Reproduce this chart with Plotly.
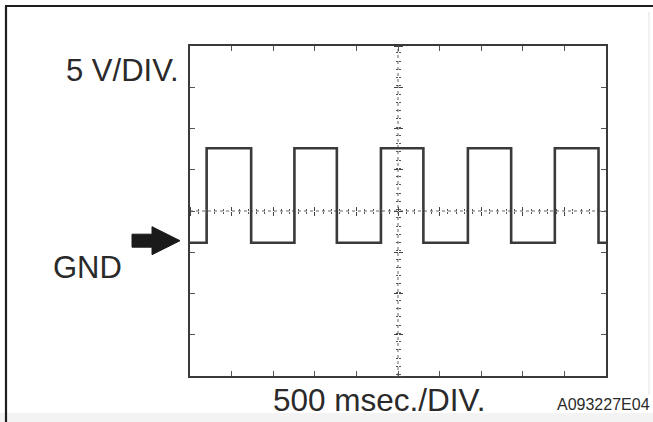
import plotly.graph_objects as go

# ---- data (time in ms, voltage in V relative to GND) ----
time_ms = [0, 200, 735, 1255, 1765, 2295, 2805, 3340, 3860, 4385, 4910, 5000]
volts = [0, 11.45, 0, 11.45, 0, 11.45, 0, 11.45, 0, 11.45, 0, 0]

x_div = 500          # 500 msec./DIV.
y_div = 5            # 5 V/DIV.
n_xdiv = 10
n_ydiv = 8
y_center = 3.84      # screen centre line in volts (GND sits below it)
x_center = x_div * n_xdiv / 2

x_range = [0, x_div * n_xdiv]
y_range = [y_center - y_div * n_ydiv / 2, y_center + y_div * n_ydiv / 2]

label_volt = "5 V/DIV."
label_time = "500 msec./DIV."
label_gnd = "GND"
label_code = "A093227E04"

W, H = 653, 422
L, R, T, B = 190, 47, 46, 46
PW, PH = W - L - R, H - T - B


def px(x):
    return (x - L) / PW


def py(y):
    return (H - B - y) / PH


FONT = "Liberation Sans, Arial, sans-serif"
INK = "#2a2a2a"

fig = go.Figure()
fig.add_trace(go.Scatter(
    x=time_ms, y=volts, mode="lines", line_shape="hv",
    line=dict(color="#3a3a3a", width=2.6),
    showlegend=False, hoverinfo="skip"))

# dummy traces so the centre (crosshair) axes get drawn
for xa, ya in [("x2", "y"), ("x3", "y"), ("x", "y2"), ("x", "y3")]:
    fig.add_trace(go.Scatter(x=[None], y=[None], xaxis=xa, yaxis=ya,
                             showlegend=False, hoverinfo="skip"))

frame_axis = dict(showgrid=False, zeroline=False, showline=True, mirror="ticks",
                  linecolor="#3a3a3a", linewidth=1.5, ticks="inside", ticklen=5,
                  tickwidth=1, tickcolor="#555", showticklabels=False, fixedrange=True)

cross_common = dict(showgrid=False, zeroline=False, showline=False,
                    showticklabels=False, ticklen=4, tickwidth=1, tickcolor="#444",
                    ticks="outside", fixedrange=True)

fig.update_layout(
    width=W, height=H,
    margin=dict(l=L, r=R, t=T, b=B),
    paper_bgcolor="white", plot_bgcolor="white",
    xaxis=dict(range=x_range, tick0=0, dtick=x_div, **frame_axis),
    yaxis=dict(range=y_range, tick0=y_center, dtick=y_div, **frame_axis),
    xaxis2=dict(range=x_range, overlaying="x", anchor="free", position=0.5, side="bottom",
                tick0=0, dtick=x_div,
                minor=dict(dtick=x_div / 5, ticklen=2, tickcolor="#555", ticks="outside"),
                **cross_common),
    xaxis3=dict(range=x_range, overlaying="x", anchor="free", position=0.5, side="top",
                tick0=0, dtick=x_div,
                minor=dict(dtick=x_div / 5, ticklen=2, tickcolor="#555", ticks="outside"),
                **cross_common),
    yaxis2=dict(range=y_range, overlaying="y", anchor="free", position=0.5, side="left",
                tick0=y_center, dtick=y_div,
                minor=dict(dtick=y_div / 5, ticklen=2, tickcolor="#555", ticks="outside"),
                **cross_common),
    yaxis3=dict(range=y_range, overlaying="y", anchor="free", position=0.5, side="right",
                tick0=y_center, dtick=y_div,
                minor=dict(dtick=y_div / 5, ticklen=2, tickcolor="#555", ticks="outside"),
                **cross_common),
)

shapes = [
    # crosshair centre lines
    dict(type="line", xref="paper", yref="y", x0=0, x1=1, y0=y_center, y1=y_center,
         line=dict(color="#666", width=1, dash="dot"), layer="below"),
    dict(type="line", xref="x", yref="paper", x0=x_center, x1=x_center, y0=0, y1=1,
         line=dict(color="#666", width=1, dash="dot"), layer="below"),
    # GND arrow (anchored at the GND level, sized in pixels)
    dict(type="path", xref="paper", yref="y", xsizemode="pixel", ysizemode="pixel",
         xanchor=0, yanchor=0,
         path="M -58 -4.5 L -38 -4.5 L -38 -12 L -10 2 L -38 16 L -38 8.5 L -58 8.5 Z",
         fillcolor="#1a1a1a", line=dict(color="#1a1a1a", width=1)),
    # outer picture frame
    dict(type="rect", xref="paper", yref="paper", x0=px(0), x1=px(W), y0=py(H), y1=py(413),
         fillcolor="#f3f3f3", line=dict(width=0), layer="below"),
    dict(type="line", xref="paper", yref="paper", x0=px(6), x1=px(6), y0=py(H), y1=py(6),
         line=dict(color="#1e1e1e", width=2.2)),
    dict(type="line", xref="paper", yref="paper", x0=px(5), x1=px(W), y0=py(6), y1=py(6),
         line=dict(color="#1e1e1e", width=2.2)),
    dict(type="line", xref="paper", yref="paper", x0=px(649), x1=px(649), y0=py(395), y1=py(12),
         line=dict(color="#e2e2e2", width=1)),
]
fig.update_layout(shapes=shapes)

ann = [
    dict(text=label_volt, x=px(181), y=py(70), xanchor="right", yanchor="middle",
         font=dict(size=31, color=INK, family=FONT)),
    dict(text=label_gnd, x=px(51), y=py(267), xanchor="left", yanchor="middle",
         font=dict(size=31, color=INK, family=FONT)),
    dict(text=label_time, x=px(378.5), y=py(400), xanchor="center", yanchor="middle",
         font=dict(size=31.5, color=INK, family=FONT)),
    dict(text=label_code, x=px(652), y=py(404), xanchor="right", yanchor="middle",
         font=dict(size=16, color=INK, family=FONT)),
]
for a in ann:
    fig.add_annotation(xref="paper", yref="paper", showarrow=False, **a)

fig.write_html(
    "out.html",
    config={"responsive": False, "displayModeBar": False},
    post_script="document.body.style.margin='0';document.body.style.overflow='hidden';",
)
